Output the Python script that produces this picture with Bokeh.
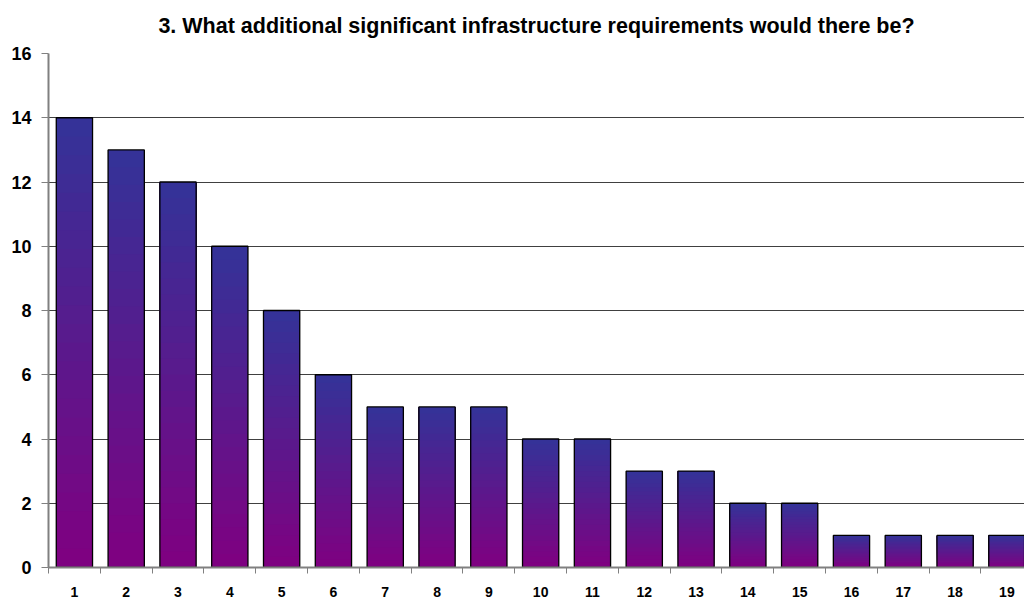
from bokeh.plotting import figure
from bokeh.models import Range1d, FixedTicker, ColumnDataSource
from bokeh.embed import file_html
from bokeh.resources import INLINE

title = "3. What additional significant infrastructure requirements would there be?"
categories = [str(i) for i in range(1, 20)]
values = [14, 13, 12, 10, 8, 6, 5, 5, 5, 4, 4, 3, 3, 2, 2, 1, 1, 1, 1]
y_ticks = [0, 2, 4, 6, 8, 10, 12, 14, 16]

top_rgb = (0x33, 0x33, 0x99)
bottom_rgb = (0x80, 0x00, 0x80)
n_slices = 24
bar_width = 0.7

p = figure(width=1024, height=601, output_backend="svg", toolbar_location=None,
           x_range=Range1d(0.5, 19.34), y_range=Range1d(0, 16),
           min_border_left=48, min_border_right=0, min_border_top=53, min_border_bottom=34)
p.outline_line_color = None
p.background_fill_color = "white"

# gradient slices (painted bottom-up, each reaching to the bar top so no gaps show)
xs, bots, tops, cols = [], [], [], []
for i, v in enumerate(values):
    x = i + 1
    for k in range(n_slices):
        b = v * k / n_slices
        f = (k + 0.5) / n_slices  # 0 bottom -> 1 top
        r = round(bottom_rgb[0] + (top_rgb[0] - bottom_rgb[0]) * f)
        g = round(bottom_rgb[1] + (top_rgb[1] - bottom_rgb[1]) * f)
        bb = round(bottom_rgb[2] + (top_rgb[2] - bottom_rgb[2]) * f)
        xs.append(x); bots.append(b); tops.append(v); cols.append("#%02x%02x%02x" % (r, g, bb))
p.vbar(x=xs, bottom=bots, top=tops, width=bar_width, fill_color=cols, line_color=None)
src = ColumnDataSource(dict(x=list(range(1, 20)), top=values))
p.vbar(x="x", top="top", bottom=0, width=bar_width, source=src, fill_color=None,
       line_color="black", line_width=1.3)

p.title.text = title
p.title.align = "center"
p.title.vertical_align = "top"
p.title.text_font = "Liberation Sans"
p.title.text_font_style = "bold"
p.title.text_font_size = "21.5px"
p.title.text_color = "black"
p.title.standoff = 27

# y axis
p.yaxis.ticker = FixedTicker(ticks=y_ticks)
p.yaxis.axis_line_color = "#808080"
p.yaxis.axis_line_width = 2
p.yaxis.major_tick_line_color = "#808080"
p.yaxis.major_tick_out = 7
p.yaxis.major_tick_in = 0
p.yaxis.minor_tick_line_color = None
p.yaxis.major_label_text_font = "Liberation Sans"
p.yaxis.major_label_text_font_style = "bold"
p.yaxis.major_label_text_font_size = "18px"
p.yaxis.major_label_text_color = "black"
p.yaxis.major_label_standoff = 10

# x axis
p.xaxis.ticker = FixedTicker(ticks=list(range(1, 20)), minor_ticks=[i + 0.5 for i in range(0, 20)])
p.xaxis.major_label_overrides = {i + 1: c for i, c in enumerate(categories)}
p.xaxis.axis_line_color = "#808080"
p.xaxis.axis_line_width = 2
p.xaxis.major_tick_line_color = None
p.xaxis.minor_tick_line_color = "#808080"
p.xaxis.minor_tick_out = 6
p.xaxis.minor_tick_in = 0
p.xaxis.major_label_text_font = "Liberation Sans"
p.xaxis.major_label_text_font_style = "bold"
p.xaxis.major_label_text_font_size = "14px"
p.xaxis.major_label_text_color = "black"
p.xaxis.major_label_standoff = 13

p.xgrid.grid_line_color = None
p.ygrid.grid_line_color = "#404040"
p.ygrid.grid_line_width = 1
p.ygrid.level = "underlay"

open("out.html", "w").write(file_html(p, INLINE))
